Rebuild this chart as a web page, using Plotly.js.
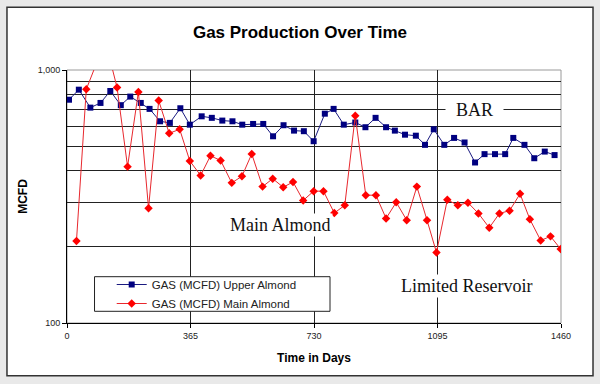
<!DOCTYPE html>
<html><head><meta charset="utf-8">
<script src="https://cdn.plot.ly/plotly-3.0.1.min.js"></script>
<style>html,body{margin:0;padding:0;background:#e9e9e9}#chart{width:600px;height:384px}</style>
</head><body><div id="chart"></div>
<script>
const upperDays = [6,35,69,99,128,159,187,218,244,275,304,335,363,398,428,459,489,518,550,580,609,640,671,700,729,762,788,818,852,882,912,943,969,999,1031,1058,1084,1115,1144,1175,1206,1234,1265,1295,1319,1352,1381,1412,1441];
const upperGas = [763,836,710,741,826,726,785,741,702,627,618,706,608,656,647,631,627,608,612,612,547,605,576,573,523,672,702,608,620,594,647,594,576,555,550,506,583,506,539,517,431,465,465,465,539,506,448,476,461];
const mainDays = [28,57,88,118,148,179,211,241,271,302,333,363,395,424,454,487,517,546,578,608,639,668,698,729,758,790,821,852,883,913,943,973,1004,1034,1064,1092,1124,1155,1185,1216,1248,1278,1308,1339,1368,1400,1429,1459];
const mainGas = [211,839,1070,1230,852,415,819,284,757,562,583,437,383,458,439,358,380,466,346,372,344,361,305,332,332,272,292,660,320,320,259,300,255,346,255,190,307,292,299,271,238,271,278,324,257,212,220,196];
const xTicks = [0,365,730,1095,1460];
const xTickLabels = ['0','365','730','1095','1460'];
const yTicks = [100,1000];
const yTickLabels = ['100','1,000'];
const yGrid = [200,300,400,500,600,700,800,900];
const xGrid = [365,730,1095];
const seriesNames = ['GAS (MCFD) Upper Almond','GAS (MCFD) Main Almond'];

const traces = [
  {x: upperDays, y: upperGas, name: seriesNames[0], type: 'scatter', mode: 'lines+markers',
   line: {color: '#1a1a80', width: 1}, marker: {symbol: 'square', size: 6, color: '#000080'}},
  {x: mainDays, y: mainGas, name: seriesNames[1], type: 'scatter', mode: 'lines+markers',
   line: {color: '#e8282e', width: 1}, marker: {symbol: 'diamond', size: 6.5, color: '#ff0000'}}
];

const font = 'Liberation Sans, Arial, sans-serif';
const serif = 'Liberation Serif, Times New Roman, serif';

const layout = {
  width: 600, height: 384,
  margin: {l: 67, r: 39, t: 70, b: 61},
  paper_bgcolor: '#e9e9e9', plot_bgcolor: '#ffffff',
  showlegend: true,
  title: {text: '<b>Gas Production Over Time</b>', font: {family: font, size: 17, color: '#000'},
          x: 0.5, xref: 'container', y: 0.9175, yref: 'container', yanchor: 'middle'},
  xaxis: {range: [0, 1460], tickvals: xTicks, ticktext: xTickLabels, ticks: 'outside', ticklen: 4,
          tickcolor: '#000', showline: true, linecolor: '#000', linewidth: 1, showgrid: false, zeroline: false,
          tickfont: {family: font, size: 9, color: '#222'},
          minor: {tickvals: xGrid, showgrid: true, gridcolor: '#222', gridwidth: 1, ticks: ''},
          title: {text: '<b>Time in Days</b>', font: {family: font, size: 12, color: '#000'}, standoff: 13}},
  yaxis: {type: 'log', range: [2, 3], tickvals: yTicks, ticktext: yTickLabels, ticks: 'outside', ticklen: 4,
          tickcolor: '#000', showline: true, linecolor: '#000', linewidth: 1, showgrid: false, zeroline: false,
          tickfont: {family: font, size: 9, color: '#222'},
          minor: {tickvals: yGrid, showgrid: true, gridcolor: '#222', gridwidth: 1, ticks: ''},
          title: {text: '<b>MCFD</b>', font: {family: font, size: 12, color: '#000'}, standoff: 7}},
  legend: {x: 0.0905, xanchor: 'left', y: 0.1146, yanchor: 'middle', bgcolor: 'rgba(0,0,0,0)', borderwidth: 0,
           font: {family: font, size: 11.5, color: '#222'}},
  shapes: [
    {type: 'rect', xref: 'paper', yref: 'paper', x0: -0.1215, x1: 1.0648, y0: -0.2083, y1: 1.2478,
     fillcolor: '#ffffff', line: {color: '#333', width: 1.5}, layer: 'below'},
    {type: 'rect', xref: 'paper', yref: 'paper', x0: 0, x1: 1, y0: 0, y1: 1,
     line: {color: '#9a9a9a', width: 1}, layer: 'below'},
    {type: 'rect', xref: 'paper', yref: 'paper', x0: 0.0557, x1: 0.5324, y0: 0.0462, y1: 0.183,
     fillcolor: '#ffffff', line: {color: '#222', width: 1}, layer: 'above'}
  ],
  annotations: [
    {xref: 'paper', yref: 'paper', x: 0.825, y: 0.842, xanchor: 'center', yanchor: 'middle',
     text: '\u00a0\u00a0BAR\u00a0\u00a0', showarrow: false,
     font: {family: serif, size: 18, color: '#111'}, bgcolor: '#ffffff'},
    {xref: 'paper', yref: 'paper', x: 0.433, y: 0.387, xanchor: 'center', yanchor: 'middle',
     text: 'Main Almond', showarrow: false,
     font: {family: serif, size: 18, color: '#111'}, bgcolor: '#ffffff'},
    {xref: 'paper', yref: 'paper', x: 0.808, y: 0.146, xanchor: 'center', yanchor: 'middle',
     text: 'Limited Reservoir', showarrow: false,
     font: {family: serif, size: 18, color: '#111'}, bgcolor: '#ffffff'}
  ]
};

Plotly.newPlot('chart', traces, layout, {displayModeBar: false, staticPlot: true});
</script>
</body></html>
